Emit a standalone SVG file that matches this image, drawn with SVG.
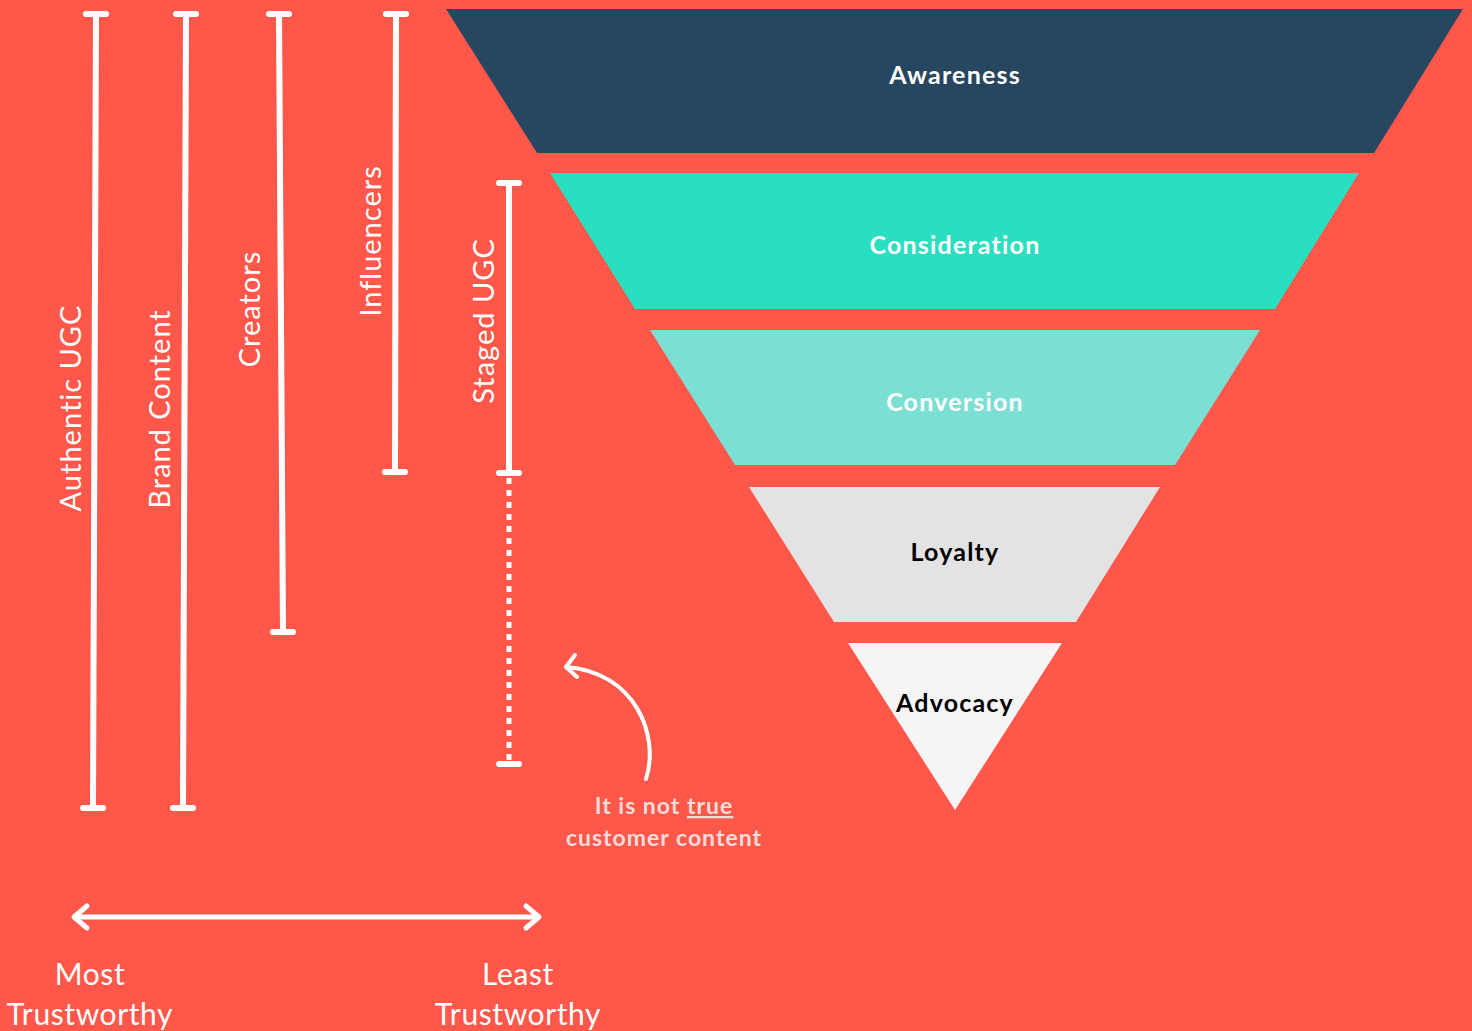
<svg xmlns="http://www.w3.org/2000/svg" width="1472" height="1031" viewBox="0 0 1472 1031">
<style>
.bar{stroke:#fff;stroke-width:6;fill:none;stroke-linecap:round}
.cap{stroke:#fff;stroke-width:6;stroke-linecap:round}
.vlab{font-family:Lato,"Liberation Sans",sans-serif;font-size:29px;letter-spacing:1px;fill:#fff;text-anchor:middle}
.flab{font-family:Lato,"Liberation Sans",sans-serif;font-size:25px;letter-spacing:1.2px;font-weight:700;text-anchor:middle}
.btm{font-family:Lato,"Liberation Sans",sans-serif;font-size:30px;letter-spacing:0.6px;fill:#fff;text-anchor:middle}
.note{font-family:Lato,"Liberation Sans",sans-serif;font-size:23px;letter-spacing:1px;font-weight:700;fill:#F2DCDA;text-anchor:middle}
</style>
<rect width="1472" height="1031" fill="#FF584B"/>
<g id="funnel-awareness">
<polygon points="446,9 1463,9 1374,153 537,153" fill="#27465F"/>
<text class="flab" x="955" y="84" fill="#fff">Awareness</text>
</g>
<g id="funnel-consideration">
<polygon points="550,173 1359,173 1275,309 635,309" fill="#29DFBF"/>
<text class="flab" x="955" y="254" fill="#fff">Consideration</text>
</g>
<g id="funnel-conversion">
<polygon points="650,330 1260,330 1175,465 735,465" fill="#7BE0D3"/>
<text class="flab" x="955" y="411" fill="#fff">Conversion</text>
</g>
<g id="funnel-loyalty">
<polygon points="749,487 1160,487 1076,622 834,622" fill="#E3E3E3"/>
<text class="flab" x="955" y="561" fill="#000">Loyalty</text>
</g>
<g id="funnel-advocacy">
<polygon points="848,643 1062,643 955,810" fill="#F5F5F5"/>
<text class="flab" x="955" y="712" fill="#000">Advocacy</text>
</g>
<g id="bar-authentic">
<line class="bar" x1="96" y1="14" x2="93" y2="808"/>
<line class="cap" x1="86" y1="14" x2="106" y2="14"/>
<line class="cap" x1="83" y1="808" x2="103" y2="808"/>
<text class="vlab" transform="translate(81,408) rotate(-90)">Authentic UGC</text>
</g>
<g id="bar-brand">
<line class="bar" x1="186" y1="14" x2="183" y2="808"/>
<line class="cap" x1="176" y1="14" x2="196" y2="14"/>
<line class="cap" x1="173" y1="808" x2="193" y2="808"/>
<text class="vlab" transform="translate(170,409) rotate(-90)">Brand Content</text>
</g>
<g id="bar-creators">
<line class="bar" x1="279" y1="14" x2="283" y2="632"/>
<line class="cap" x1="269" y1="14" x2="289" y2="14"/>
<line class="cap" x1="273" y1="632" x2="293" y2="632"/>
<text class="vlab" transform="translate(260,309) rotate(-90)">Creators</text>
</g>
<g id="bar-influencers">
<line class="bar" x1="396" y1="14" x2="395" y2="472"/>
<line class="cap" x1="386" y1="14" x2="406" y2="14"/>
<line class="cap" x1="385" y1="472" x2="405" y2="472"/>
<text class="vlab" transform="translate(381,241) rotate(-90)">Influencers</text>
</g>
<g id="bar-staged">
<line class="bar" x1="509" y1="183" x2="509" y2="473"/>
<line class="cap" x1="499" y1="183" x2="519" y2="183"/>
<line class="cap" x1="499" y1="473" x2="519" y2="473"/>
<line x1="509" y1="478" x2="509" y2="760" stroke="#fff" stroke-width="5" stroke-dasharray="6 6"/>
<line class="cap" x1="499" y1="764" x2="519" y2="764"/>
<text class="vlab" transform="translate(494,321) rotate(-90)">Staged UGC</text>
</g>
<g id="connectors">
<path d="M646,779 C660,735 635,672 566,667" fill="none" stroke="#fff" stroke-width="4" stroke-linecap="round"/>
<polyline points="575,655 566,667 577,677" fill="none" stroke="#fff" stroke-width="4" stroke-linecap="round" stroke-linejoin="round"/>
<line x1="74" y1="917" x2="539" y2="917" stroke="#fff" stroke-width="5"/>
<polyline points="87,906 74,917 87,928" fill="none" stroke="#fff" stroke-width="5" stroke-linecap="round" stroke-linejoin="round"/>
<polyline points="526,906 539,917 526,928" fill="none" stroke="#fff" stroke-width="5" stroke-linecap="round" stroke-linejoin="round"/>
</g>
<g id="note">
<text class="note" x="664" y="814">It is not <tspan text-decoration="underline">true</tspan></text>
<text class="note" x="664" y="846">customer content</text>
</g>
<g id="scale-labels">
<text class="btm" x="90" y="985">Most</text>
<text class="btm" x="90" y="1025">Trustworthy</text>
<text class="btm" x="518" y="985">Least</text>
<text class="btm" x="518" y="1025">Trustworthy</text>
</g>
</svg>
